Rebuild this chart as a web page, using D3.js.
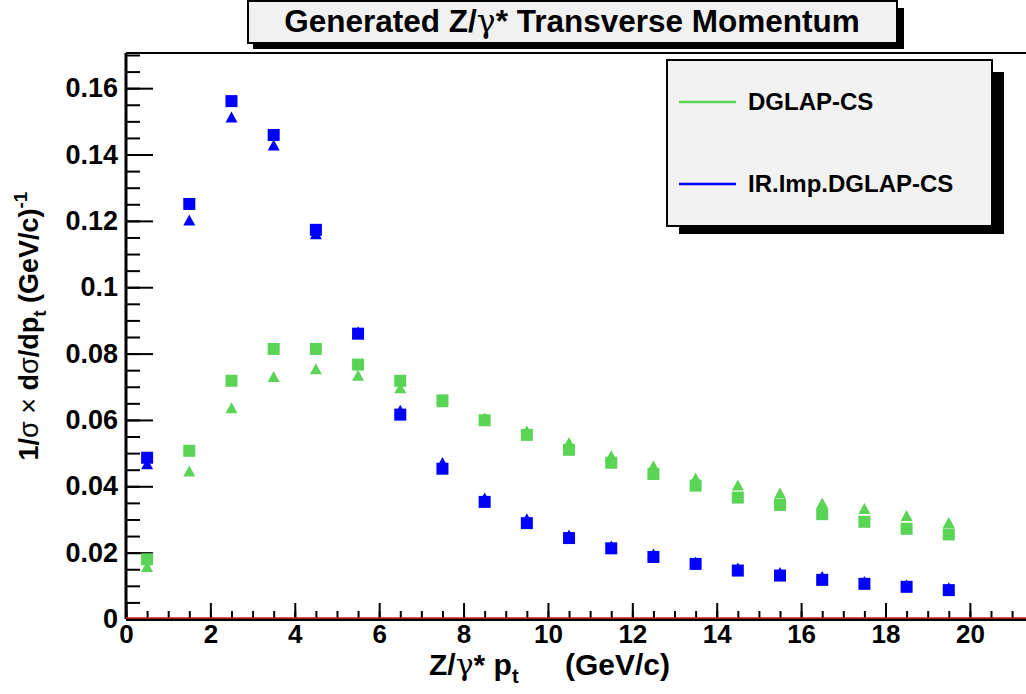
<!DOCTYPE html>
<html>
<head>
<meta charset="utf-8">
<script src="https://cdn.jsdelivr.net/npm/d3@7"></script>
<style>
  body { margin: 0; background: #fff; }
  svg { display: block; font-family: "Liberation Sans", Arial, sans-serif; font-weight: bold; }
</style>
</head>
<body>
<svg id="chart" width="1026" height="694"></svg>
<script>
// bin centres (GeV/c)
const ptBins = [0.5, 1.5, 2.5, 3.5, 4.5, 5.5, 6.5, 7.5, 8.5, 9.5, 10.5, 11.5, 12.5, 13.5, 14.5, 15.5, 16.5, 17.5, 18.5, 19.5]

// DGLAP-CS (green)
const dglapSquares = [0.0180, 0.0507, 0.0718, 0.0814, 0.0814, 0.0767, 0.0718, 0.0659, 0.0599, 0.0555, 0.0510, 0.0471, 0.0437, 0.0402, 0.0366, 0.0344, 0.0316, 0.0293, 0.0272, 0.0255]
const dglapTriangles = [0.0158, 0.0446, 0.0637, 0.0731, 0.0754, 0.0735, 0.0697, 0.0655, 0.0606, 0.0567, 0.0532, 0.0492, 0.0462, 0.0425, 0.0404, 0.0380, 0.0350, 0.0333, 0.0312, 0.0291]

// IR.Imp.DGLAP-CS (blue)
const irSquares = [0.0486, 0.1251, 0.1561, 0.1459, 0.1173, 0.0860, 0.0616, 0.0453, 0.0353, 0.0289, 0.0244, 0.0213, 0.0187, 0.0166, 0.0146, 0.0131, 0.0118, 0.0106, 0.0097, 0.0087]
const irTriangles = [0.0468, 0.1203, 0.1513, 0.1429, 0.1161, 0.0866, 0.0629, 0.0472, 0.0365, 0.0302, 0.0253, 0.0220, 0.0196, 0.0172, 0.0154, 0.0140, 0.0128, 0.0113, 0.0103, 0.0094]

const legendNames = ['DGLAP-CS', 'IR.Imp.DGLAP-CS']
const yTicks = [0, 0.02, 0.04, 0.06, 0.08, 0.1, 0.12, 0.14, 0.16]
const xTicks = [0, 2, 4, 6, 8, 10, 12, 14, 16, 18, 20]

const green = '#59d454'
const blue = '#0000ff'

const svg = d3.select('#chart')

// marcos del pad
const padLeft = 126, padRight = 1026, padTop = 53, padBottom = 619

const x = d3.scaleLinear().domain([0, 21.33]).range([padLeft, padRight])
const y = d3.scaleLinear().domain([0, 0.1706]).range([padBottom, padTop])

// linea superior del marco
svg.append('line')
    .attr('x1', padLeft).attr('x2', padRight)
    .attr('y1', padTop).attr('y2', padTop)
    .attr('stroke', '#000').attr('stroke-width', 2)

// eje X: ticks menores y mayores hacia dentro
svg.append('g')
    .attr('transform', `translate(0, ${padBottom})`)
    .call(d3.axisBottom(x).tickValues(d3.range(0, 21.5, 0.5)).tickFormat('').tickSizeInner(-8).tickSizeOuter(0))
    .call(g => g.select('.domain').remove())
    .call(g => g.selectAll('line').attr('stroke-width', 2))

svg.append('g')
    .attr('transform', `translate(0, ${padBottom})`)
    .call(d3.axisBottom(x).tickValues(xTicks).tickFormat(d3.format('d')).tickSizeInner(-16).tickSizeOuter(0).tickPadding(6))
    .call(g => g.select('.domain').attr('stroke-width', 3))
    .call(g => g.selectAll('line').attr('stroke-width', 2))
    .call(g => g.selectAll('text').attr('font-size', 26).attr('font-family', null).attr('fill', '#000'))

// eje Y
svg.append('g')
    .attr('transform', `translate(${padLeft}, 0)`)
    .call(d3.axisLeft(y).tickValues(d3.range(0, 0.1701, 0.005)).tickFormat('').tickSizeInner(-14).tickSizeOuter(0))
    .call(g => g.select('.domain').remove())
    .call(g => g.selectAll('line').attr('stroke-width', 2))

svg.append('g')
    .attr('transform', `translate(${padLeft}, 0)`)
    .call(d3.axisLeft(y).tickValues(yTicks).tickFormat(d => d === 0 ? '0' : d3.format('')(+d.toFixed(2))).tickSizeInner(-27).tickSizeOuter(0).tickPadding(8))
    .call(g => g.select('.domain').attr('d', `M0,${padTop}V${padBottom}`).attr('stroke-width', 3))
    .call(g => g.selectAll('line').attr('stroke-width', 2))
    .call(g => g.selectAll('text').attr('font-size', 27).attr('font-family', null).attr('fill', '#000'))

// linea roja en y = 0
svg.append('line')
    .attr('x1', padLeft).attr('x2', padRight)
    .attr('y1', y(0) - 1).attr('y2', y(0) - 1)
    .attr('stroke', '#d42020').attr('stroke-width', 1.5)

// marcadores: triangulos primero, cuadrados encima
const sq = 12
const tri = (cx, cy) => `M${cx},${cy - 5.5}L${cx + 6},${cy + 5.5}L${cx - 6},${cy + 5.5}Z`

const series = [
    { vals: dglapTriangles, color: green, shape: 'tri' },
    { vals: irTriangles, color: blue, shape: 'tri' },
    { vals: dglapSquares, color: green, shape: 'sq' },
    { vals: irSquares, color: blue, shape: 'sq' }
]

series.forEach(s => {
    const g = svg.append('g')
    if (s.shape === 'tri') {
        g.selectAll('path')
            .data(s.vals)
            .enter().append('path')
            .attr('d', (d, i) => tri(x(ptBins[i]), y(d)))
            .attr('fill', s.color)
    } else {
        g.selectAll('rect')
            .data(s.vals)
            .enter().append('rect')
            .attr('x', (d, i) => x(ptBins[i]) - sq / 2)
            .attr('y', d => y(d) - sq / 2)
            .attr('width', sq)
            .attr('height', sq)
            .attr('fill', s.color)
    }
})

// titulo de los ejes
svg.append('text')
    .attr('x', 429).attr('y', 675)
    .attr('font-size', 30)
    .call(t => {
        t.append('tspan').text('Z/')
        t.append('tspan').attr('font-weight', 'normal').attr('font-family', 'DejaVu Serif').text('γ')
        t.append('tspan').text('* p')
        t.append('tspan').attr('font-size', 20).attr('dy', 8).text('t')
        t.append('tspan').attr('x', 565).attr('dy', -8).text('(GeV/c)')
    })

svg.append('text')
    .attr('transform', 'translate(38, 326) rotate(-90)')
    .attr('text-anchor', 'middle')
    .attr('font-size', 27)
    .call(t => {
        t.append('tspan').text('1/')
        t.append('tspan').attr('font-weight', 'normal').text('σ × ')
        t.append('tspan').text('d')
        t.append('tspan').attr('font-weight', 'normal').text('σ')
        t.append('tspan').text('/dp')
        t.append('tspan').attr('font-size', 19).attr('dy', 8).text('t')
        t.append('tspan').attr('dy', -8).text('  (GeV/c)')
        t.append('tspan').attr('font-size', 19).attr('dy', -11).text('-1')
    })

// caja del titulo con sombra
svg.append('rect').attr('x', 253).attr('y', 8).attr('width', 651).attr('height', 41).attr('fill', '#000')
svg.append('rect').attr('x', 248).attr('y', 1).attr('width', 649).attr('height', 42)
    .attr('fill', '#f1f1f1').attr('stroke', '#000').attr('stroke-width', 2)
svg.append('text')
    .attr('x', 572).attr('y', 32)
    .attr('text-anchor', 'middle')
    .attr('font-size', 31.5)
    .call(t => {
        t.append('tspan').text('Generated Z/')
        t.append('tspan').attr('font-weight', 'normal').attr('font-family', 'DejaVu Serif').text('γ')
        t.append('tspan').text('* Transverse Momentum')
    })

// leyenda
const lg = { x: 667, y: 60, w: 325, h: 166 }
svg.append('rect').attr('x', lg.x + 12).attr('y', lg.y + 12).attr('width', lg.w).attr('height', lg.h - 4).attr('fill', '#000')
svg.append('rect').attr('x', lg.x).attr('y', lg.y).attr('width', lg.w).attr('height', lg.h)
    .attr('fill', '#f2f2f2').attr('stroke', '#000').attr('stroke-width', 2)

const legendRows = svg.append('g').selectAll('g')
    .data(legendNames)
    .enter().append('g')
    .attr('transform', (d, i) => `translate(${lg.x}, ${lg.y + 42 + i * 82})`)

legendRows.append('line')
    .attr('x1', 12).attr('x2', 69)
    .attr('stroke', (d, i) => i === 0 ? green : blue)
    .attr('stroke-width', 2.5)

legendRows.append('text')
    .attr('x', 81).attr('y', 8)
    .attr('font-size', 24)
    .text(d => d)
</script>
</body>
</html>
